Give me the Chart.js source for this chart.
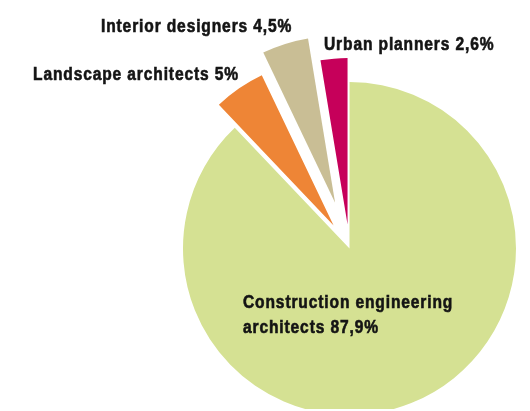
<!DOCTYPE html>
<html>
<head>
<meta charset="utf-8">
<script src="https://cdn.jsdelivr.net/npm/chart.js@4.4.1/dist/chart.umd.min.js"></script>
<style>
  html, body { margin: 0; padding: 0; background: #fff; }
  #wrap { width: 530px; height: 411px; }
</style>
</head>
<body>
<div id="wrap"><canvas id="pie" width="530" height="411"></canvas></div>
<script>
// Shares of architects by field (percent)
const categories = [
  'Construction engineering architects',
  'Landscape architects',
  'Interior designers',
  'Urban planners',
];
const shares = [87.9, 5, 4.5, 2.6];
const shareLabels = ['87,9%', '5%', '4,5%', '2,6%'];

const colors = ['#d5e193', '#ee8536', '#c9be95', '#c6005a'];
// how far each slice is pulled out of the pie, px
const explodePx = [0, 28, 48, 24];

// label layout: [x, baseline y, lines]
const labelLayout = [
  { x: 243, y: 308, lines: ['Construction engineering', 'architects ' + shareLabels[0]] },
  { x: 33, y: 80, lines: ['Landscape architects ' + shareLabels[1]] },
  { x: 101, y: 32, lines: ['Interior designers ' + shareLabels[2]] },
  { x: 324, y: 50, lines: ['Urban planners ' + shareLabels[3]] },
];

// move the small slices out from the centre along their middle angle
const explodePlugin = {
  id: 'explode',
  afterDatasetUpdate(chart, args) {
    args.meta.data.forEach((arc, i) => {
      const d = explodePx[i] || 0;
      if (!d) return;
      const mid = (arc.startAngle + arc.endAngle) / 2;
      arc.x += Math.cos(mid) * d;
      arc.y += Math.sin(mid) * d;
    });
  },
};

// condensed bold labels drawn on top
const labelPlugin = {
  id: 'sliceLabels',
  afterDraw(chart) {
    const ctx = chart.ctx;
    const squeeze = 0.865;
    ctx.save();
    ctx.fillStyle = '#141414';
    ctx.strokeStyle = '#141414';
    ctx.lineWidth = 0.6;
    ctx.font = 'bold 18px "Liberation Sans", Arial, sans-serif';
    ctx.letterSpacing = '1px';
    ctx.textBaseline = 'alphabetic';
    ctx.textAlign = 'left';
    labelLayout.forEach((lab) => {
      lab.lines.forEach((line, j) => {
        ctx.save();
        ctx.translate(lab.x, lab.y + j * 25);
        ctx.scale(squeeze, 1);
        ctx.fillText(line, 0, 0);
        ctx.strokeText(line, 0, 0);
        ctx.restore();
      });
    });
    ctx.restore();
  },
};

new Chart(document.getElementById('pie'), {
  type: 'pie',
  data: {
    labels: categories,
    datasets: [
      {
        data: shares,
        backgroundColor: colors,
        borderWidth: 0,
        clip: { left: false, top: false, right: false, bottom: -2 },
      },
    ],
  },
  options: {
    responsive: false,
    animation: false,
    radius: 166.5,
    layout: { padding: { left: 169, right: 0, top: 86, bottom: 0 } },
    plugins: {
      legend: { display: false },
      tooltip: { enabled: false },
    },
    events: [],
  },
  plugins: [explodePlugin, labelPlugin],
});
</script>
</body>
</html>
